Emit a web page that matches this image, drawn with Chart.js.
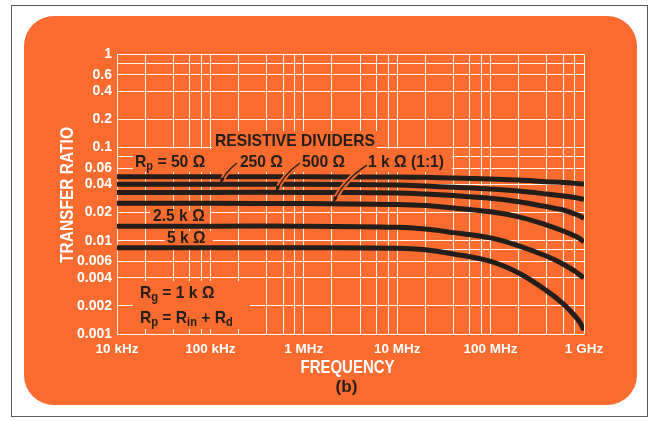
<!DOCTYPE html>
<html>
<head>
<meta charset="utf-8">
<script src="https://cdn.jsdelivr.net/npm/chart.js@4.4.1/dist/chart.umd.min.js"></script>
<style>
  html, body { margin: 0; padding: 0; background: #fff; }
  canvas { display: block; }
</style>
</head>
<body>
<canvas id="transferChart" width="649" height="421"></canvas>
<script>
// frequency points (Hz)
const frequencies = [1e4, 1e5, 1e6, 1e7, 2e7, 4e7, 1e8, 2e8, 4e8, 6e8, 8e8, 9e8, 1e9];

// transfer ratio for each divider resistance Rp
const rp50   = [0.0484, 0.0484, 0.0484, 0.048, 0.0477, 0.0469, 0.0457, 0.0446, 0.0428, 0.042, 0.0411, 0.0407, 0.0404];
const rp250  = [0.0401, 0.0401, 0.0401, 0.0394, 0.0385, 0.0373, 0.0357, 0.034, 0.0316, 0.0301, 0.029, 0.0283, 0.0277];
const rp500  = [0.0329, 0.0329, 0.0329, 0.0324, 0.0316, 0.0304, 0.0284, 0.0261, 0.0231, 0.0213, 0.0193, 0.0184, 0.0173];
const rp1k   = [0.0251, 0.0251, 0.025, 0.0244, 0.0238, 0.0224, 0.0204, 0.018, 0.0147, 0.0127, 0.0112, 0.0105, 0.0097];
const rp2k5  = [0.0143, 0.0143, 0.0143, 0.0139, 0.0133, 0.0122, 0.0107, 0.0088, 0.0068, 0.0056, 0.0047, 0.0043, 0.004];
const rp5k   = [0.0084, 0.0084, 0.0084, 0.0083, 0.008, 0.0072, 0.006, 0.0045, 0.0029, 0.0021, 0.00156, 0.00134, 0.0011];

// axis ticks
const xTickValues = [1e4, 1e5, 1e6, 1e7, 1e8, 1e9];
const xTickLabels = ['10 kHz', '100 kHz', '1 MHz', '10 MHz', '100 MHz', '1 GHz'];
const yTickValues = [1, 0.6, 0.4, 0.2, 0.1, 0.06, 0.04, 0.02, 0.01, 0.006, 0.004, 0.002, 0.001];
const yTickLabels = ['1', '0.6', '0.4', '0.2', '0.1', '0.06', '0.04', '0.02', '0.01', '0.006', '0.004', '0.002', '0.001'];
const gridSteps = [1, 2, 4, 6, 8];

const ORANGE = '#f96b2f';
const INK = '#241d19';

function gridValues(min, max) {
  const out = [];
  for (let d = min; d < max * 0.999; d *= 10) {
    gridSteps.forEach(m => out.push(m * d));
  }
  out.push(max);
  return out;
}

function labelFor(value, values, labels) {
  const i = values.findIndex(v => Math.abs(v / value - 1) < 1e-6);
  return i >= 0 ? labels[i] : '';
}

// label boxes that hide the grid: [f1, v1, f2, v2]
const maskBoxes = [
  [1.48e4, 0.0959, 3.86e7, 0.0544],
  [1.04e5, 0.1496, 6.08e6, 0.0959],
  [2.26e4, 0.0208, 9.9e4, 0.0147],
  [3.26e4, 0.01268, 1.06e5, 0.00875],
  [1.48e4, 0.00369, 2.65e5, 0.00113]
];

// leader arrows from the labels to their curves
const leaders = [
  { from: [1.93e5, 0.0679], to: [1.27e5, 0.0401] },
  { from: [9.1e5, 0.068], to: [5.0e5, 0.0329] },
  { from: [4.75e6, 0.0646], to: [2.05e6, 0.0251] }
];

// text annotations, left edge and vertical middle in data units
const notes = [
  { f: 1.12e5, v: 0.1168, runs: [['RESISTIVE DIVIDERS']] },
  { f: 1.56e4, v: 0.0696, runs: [['R'], ['p', 1], [' = 50 Ω']] },
  { f: 2.07e5, v: 0.0696, runs: [['250 Ω']] },
  { f: 9.57e5, v: 0.0696, runs: [['500 Ω']] },
  { f: 4.87e6, v: 0.0696, runs: [['1 k Ω (1:1)']] },
  { f: 2.43e4, v: 0.01836, runs: [['2.5 k Ω']] },
  { f: 3.43e4, v: 0.01067, runs: [['5 k Ω']] },
  { f: 1.76e4, v: 0.002744, runs: [['R'], ['g', 1], [' = 1 k Ω']] },
  { f: 1.76e4, v: 0.00148, runs: [['R'], ['p', 1], [' = R'], ['in', 1], [' + R'], ['d', 1]] }
];

const FONT = '"Liberation Sans", Arial, sans-serif';

function drawRuns(ctx, x, y, runs) {
  ctx.save();
  ctx.translate(x, y);
  ctx.scale(0.92, 1);
  ctx.fillStyle = INK;
  ctx.textBaseline = 'middle';
  ctx.textAlign = 'left';
  let cx = 0;
  runs.forEach(([t, sub]) => {
    ctx.font = sub ? 'bold 12px ' + FONT : 'bold 17px ' + FONT;
    ctx.fillText(t, cx, sub ? 5 : 0);
    cx += ctx.measureText(t).width;
  });
  ctx.restore();
}

function drawFitted(ctx, text, cx, cy, size, width, color, angle) {
  ctx.save();
  ctx.translate(cx, cy);
  if (angle) ctx.rotate(angle);
  ctx.font = 'bold ' + size + 'px ' + FONT;
  const w = ctx.measureText(text).width;
  ctx.scale(width / w, 1);
  ctx.fillStyle = color;
  ctx.textAlign = 'center';
  ctx.textBaseline = 'middle';
  ctx.fillText(text, 0, 0);
  ctx.restore();
}

const decor = {
  id: 'decor',
  beforeDraw(chart) {
    const ctx = chart.ctx;
    ctx.save();
    ctx.fillStyle = '#fff';
    ctx.fillRect(0, 0, chart.width, chart.height);
    ctx.strokeStyle = '#5a5a5a';
    ctx.lineWidth = 1;
    ctx.strokeRect(11.5, 5.5, 636, 411);
    ctx.fillStyle = ORANGE;
    ctx.beginPath();
    ctx.roundRect(24, 16, 613, 389, 30);
    ctx.fill();
    ctx.restore();
  },
  beforeDatasetsDraw(chart) {
    const ctx = chart.ctx, xs = chart.scales.x, ys = chart.scales.y;
    ctx.save();
    ctx.fillStyle = ORANGE;
    maskBoxes.forEach(([f1, v1, f2, v2]) => {
      const x1 = xs.getPixelForValue(f1), x2 = xs.getPixelForValue(f2);
      const y1 = ys.getPixelForValue(v1), y2 = ys.getPixelForValue(v2);
      ctx.fillRect(x1, y1, x2 - x1, y2 - y1);
    });
    ctx.restore();
  },
  afterDatasetsDraw(chart) {
    const ctx = chart.ctx, xs = chart.scales.x, ys = chart.scales.y;
    const area = chart.chartArea;

    leaders.forEach(l => {
      const s = { x: xs.getPixelForValue(l.from[0]), y: ys.getPixelForValue(l.from[1]) };
      const e = { x: xs.getPixelForValue(l.to[0]), y: ys.getPixelForValue(l.to[1]) };
      const c = { x: e.x + (s.x - e.x) * 0.3, y: s.y + (e.y - s.y) * 0.4 };
      // orange gap cut through the curves the leader crosses
      ctx.save();
      ctx.beginPath();
      ctx.rect(0, 0, chart.width, e.y - 3.5);
      ctx.clip();
      ctx.strokeStyle = ORANGE;
      ctx.lineWidth = 5;
      ctx.beginPath();
      ctx.moveTo(s.x, s.y);
      ctx.quadraticCurveTo(c.x, c.y, e.x, e.y);
      ctx.stroke();
      ctx.restore();
      // leader
      ctx.save();
      ctx.strokeStyle = INK;
      ctx.lineWidth = 1.4;
      ctx.beginPath();
      ctx.moveTo(s.x, s.y);
      ctx.quadraticCurveTo(c.x, c.y, e.x, e.y);
      ctx.stroke();
      const a = Math.atan2(e.y - c.y, e.x - c.x);
      ctx.fillStyle = INK;
      ctx.beginPath();
      ctx.moveTo(e.x, e.y);
      ctx.lineTo(e.x - 7 * Math.cos(a) + 2.2 * Math.sin(a), e.y - 7 * Math.sin(a) - 2.2 * Math.cos(a));
      ctx.lineTo(e.x - 7 * Math.cos(a) - 2.2 * Math.sin(a), e.y - 7 * Math.sin(a) + 2.2 * Math.cos(a));
      ctx.closePath();
      ctx.fill();
      ctx.restore();
    });

    notes.forEach(n => {
      drawRuns(ctx, xs.getPixelForValue(n.f), ys.getPixelForValue(n.v), n.runs);
    });

    const midY = (area.top + area.bottom) / 2;
    const midX = (area.left + area.right) / 2;
    drawFitted(ctx, 'TRANSFER RATIO', area.left - 49, midY + 1, 19, 136, '#fff', -Math.PI / 2);
    drawFitted(ctx, 'FREQUENCY', midX - 3, area.bottom + 34, 19, 94, '#fff', 0);
    drawFitted(ctx, '(b)', midX - 4, area.bottom + 54, 16, 22, INK, 0);
  }
};

function series(values) {
  return frequencies.map((f, i) => ({ x: f, y: values[i] }));
}

const curves = [rp50, rp250, rp500, rp1k, rp2k5, rp5k];

new Chart(document.getElementById('transferChart').getContext('2d'), {
  type: 'line',
  data: {
    datasets: curves.map((vals, i) => ({
      label: 'Rp ' + i,
      data: series(vals),
      borderColor: INK,
      borderWidth: 5,
      pointRadius: 0,
      fill: false,
      tension: 0.35,
      borderCapStyle: 'butt'
    }))
  },
  options: {
    responsive: false,
    animation: false,
    devicePixelRatio: 1,
    layout: { padding: { top: 54, right: 65, bottom: 0, left: 0 } },
    plugins: {
      legend: { display: false },
      tooltip: { enabled: false }
    },
    scales: {
      x: {
        type: 'logarithmic',
        min: 1e4,
        max: 1e9,
        afterBuildTicks: s => { s.ticks = gridValues(1e4, 1e9).map(v => ({ value: v })); },
        afterFit: s => { s.height = 87; },
        grid: { color: '#fff4ee', lineWidth: 1, drawTicks: false },
        border: { display: false },
        ticks: {
          autoSkip: false,
          maxRotation: 0,
          padding: 7,
          color: '#fff',
          font: { family: FONT, size: 13.5, weight: 'bold' },
          callback: v => labelFor(v, xTickValues, xTickLabels)
        }
      },
      y: {
        type: 'logarithmic',
        min: 0.001,
        max: 1,
        afterBuildTicks: s => { s.ticks = gridValues(0.001, 1).map(v => ({ value: v })); },
        afterFit: s => { s.width = 117; },
        grid: { color: '#fff4ee', lineWidth: 1, drawTicks: false },
        border: { display: false },
        ticks: {
          autoSkip: false,
          padding: 5,
          color: '#fff',
          font: { family: FONT, size: 14, weight: 'bold' },
          callback: v => labelFor(v, yTickValues, yTickLabels)
        }
      }
    }
  },
  plugins: [decor]
});
</script>
</body>
</html>
